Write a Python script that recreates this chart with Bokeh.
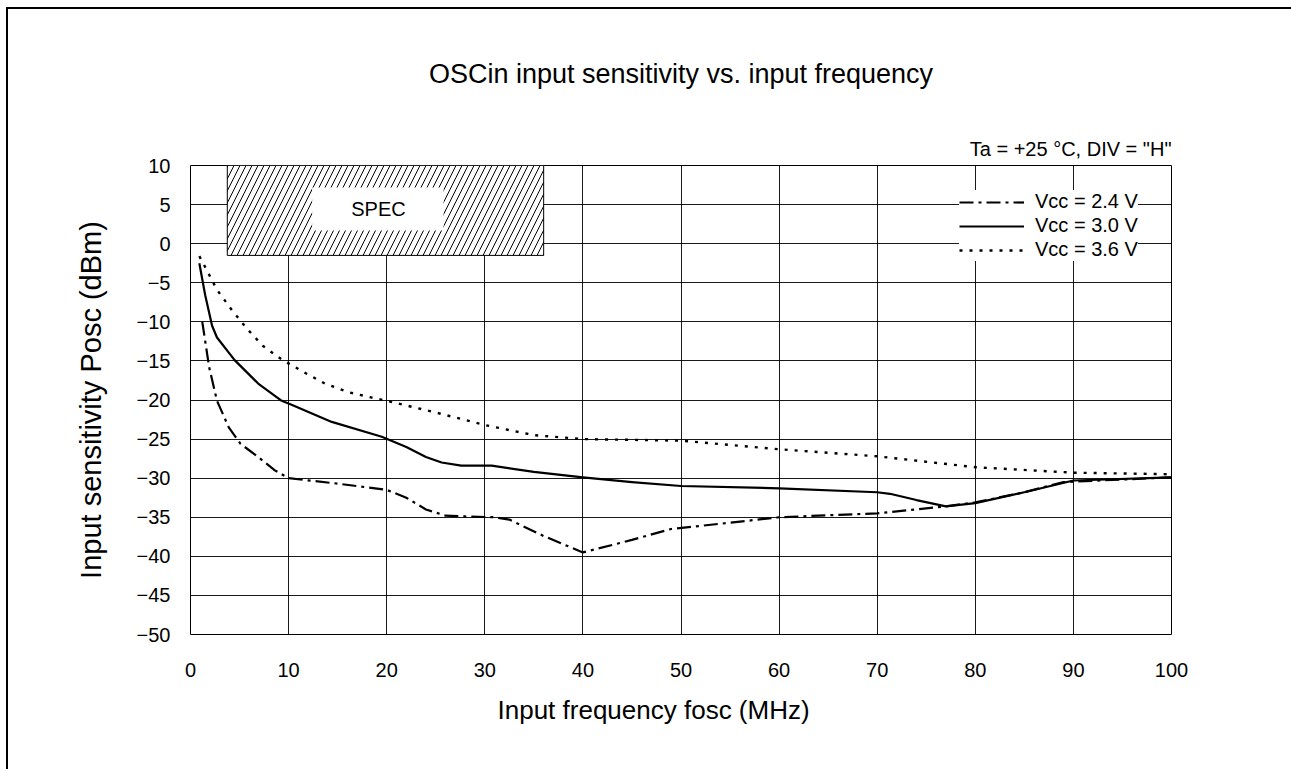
from bokeh.plotting import figure
from bokeh.models import Legend, LegendItem, FixedTicker, Label, Title
from bokeh.embed import file_html
from bokeh.resources import INLINE

FONT = "Liberation Sans"

# ---- data ----
freq_24 = [1.2, 1.9, 2.7, 3.9, 5.1, 6.9, 8.6, 10, 15, 20, 22, 24, 26, 28, 31, 32.5, 36, 40, 45, 49, 55, 60, 70, 77, 80, 85, 89, 100]
psens_24 = [-10.0, -15.8, -20.1, -23.5, -25.6, -27.3, -29.0, -30.0, -30.7, -31.5, -32.5, -34.0, -34.8, -34.9, -35.0, -35.3, -37.4, -39.5, -37.9, -36.5, -35.7, -35.0, -34.5, -33.6, -33.1, -31.8, -30.5, -29.9]

freq_30 = [0.9, 1.5, 2.2, 2.7, 4.5, 6.9, 9.3, 10.3, 14.4, 19.5, 22, 24, 25.6, 27.6, 30.7, 35, 40, 45, 50, 60, 70, 71.3, 74, 77, 80, 85, 90, 100]
psens_30 = [-2.5, -6.6, -10.5, -12.0, -14.9, -17.9, -20.1, -20.6, -22.8, -24.7, -26.0, -27.3, -28.0, -28.4, -28.4, -29.2, -29.9, -30.5, -31.0, -31.3, -31.8, -32.0, -32.8, -33.6, -33.2, -31.8, -30.3, -29.9]

freq_36 = [0.9, 1.5, 2.7, 4.1, 5.7, 7.4, 9.4, 11.5, 13.7, 16.1, 18.5, 20, 25, 30, 35, 40, 50, 60, 70, 80, 90, 100]
psens_36 = [-1.6, -3.0, -5.9, -8.3, -10.8, -13.1, -14.9, -16.4, -17.9, -19.0, -19.7, -20.1, -21.6, -23.2, -24.5, -25.0, -25.2, -26.3, -27.2, -28.6, -29.3, -29.5]

series_labels = ["Vcc = 2.4 V", "Vcc = 3.0 V", "Vcc = 3.6 V"]

x_ticks = [0, 10, 20, 30, 40, 50, 60, 70, 80, 90, 100]
y_ticks = [10, 5, 0, -5, -10, -15, -20, -25, -30, -35, -40, -45, -50]
y_tick_labels = ["10", "5", "0", "\u22125", "\u221210", "\u221215", "\u221220", "\u221225",
                 "\u221230", "\u221235", "\u221240", "\u221245", "\u221250"]

spec_freq = [3.75, 36.0]
spec_level = [-1.5, 10.0]

title_text = "OSCin input sensitivity vs. input frequency"
note_text = 'Ta = +25 \u00b0C, DIV = "H"'
x_label = "Input frequency fosc (MHz)"
y_label = "Input sensitivity Posc (dBm)"

p = figure(frame_width=981, frame_height=469, x_range=(0, 100), y_range=(-50, 10),
           output_backend="svg", toolbar_location=None,
           min_border_left=182, min_border_top=156, min_border_right=120, min_border_bottom=135)
p.styles = {"margin-left": "6px", "margin-top": "7px",
            "border-left": "2px solid black", "border-top": "2px solid black"}
p.background_fill_color = "white"
p.border_fill_color = "white"
p.outline_line_color = "black"
p.outline_line_width = 1

# main title (outermost) and condition note
p.title.text = title_text
p.title.align = "center"
p.title.text_font = FONT
p.title.text_font_size = "27px"
p.title.text_font_style = "normal"
p.title.text_color = "black"
p.title.standoff = 83

note = Title(text=note_text, align="right", text_font=FONT, text_font_size="20px",
             text_font_style="normal", text_color="black", standoff=11)
p.add_layout(note, "above")

for ax in (p.xaxis[0], p.yaxis[0]):
    ax.axis_line_color = None
    ax.major_tick_line_color = None
    ax.minor_tick_line_color = None
    ax.major_tick_out = 0
    ax.major_tick_in = 0
    ax.major_label_text_font = FONT
    ax.major_label_text_font_size = "20px"
    ax.major_label_text_color = "black"

p.xaxis.ticker = FixedTicker(ticks=x_ticks)
p.yaxis.ticker = FixedTicker(ticks=y_ticks)
p.yaxis.major_label_overrides = {t: l for t, l in zip(y_ticks, y_tick_labels)}
p.xaxis.major_label_standoff = 28
p.yaxis.major_label_standoff = 20

p.yaxis.axis_label = y_label
p.yaxis.axis_label_text_font = FONT
p.yaxis.axis_label_text_font_size = "29px"
p.yaxis.axis_label_text_font_style = "normal"
p.yaxis.axis_label_text_color = "black"
p.yaxis.axis_label_standoff = 27

xlab = Title(text=x_label, align="left", offset=307, text_font=FONT, text_font_size="26px",
             text_font_style="normal", text_color="black", standoff=26)
p.add_layout(xlab, "below")

p.xgrid.ticker = FixedTicker(ticks=x_ticks)
p.ygrid.ticker = FixedTicker(ticks=y_ticks)
for g in (p.xgrid[0], p.ygrid[0]):
    g.grid_line_color = "black"
    g.grid_line_width = 1
    g.grid_line_alpha = 0.9

# SPEC hatched box
p.quad(left=spec_freq[0], right=spec_freq[1], bottom=spec_level[0], top=spec_level[1],
       fill_color="white", line_color="black", line_width=1,
       hatch_pattern="/", hatch_color="black", hatch_scale=12, hatch_weight=1)
p.quad(left=12.4, right=25.8, bottom=1.7, top=7.2, fill_color="white", line_color=None)
p.add_layout(Label(x=(spec_freq[0] + spec_freq[1]) / 2, y=4.4, x_offset=-7, text="SPEC",
                   text_align="center", text_baseline="middle",
                   text_font=FONT, text_font_size="20px", text_color="black"))

# curves
r24 = p.line(freq_24, psens_24, line_color="black", line_width=2.2, line_dash="14 5 3 5",
             line_join="round")
r30 = p.line(freq_30, psens_30, line_color="black", line_width=2.2, line_join="round")
r36 = p.line(freq_36, psens_36, line_color="black", line_width=2.4, line_dash="3 7",
             line_join="round")

legend = Legend(items=[LegendItem(label=series_labels[0], renderers=[r24]),
                       LegendItem(label=series_labels[1], renderers=[r30]),
                       LegendItem(label=series_labels[2], renderers=[r36])],
                location=(769, 373))
legend.label_text_font = FONT
legend.label_text_font_size = "20px"
legend.label_text_color = "black"
legend.glyph_width = 65
legend.glyph_height = 20
legend.label_height = 20
legend.label_standoff = 11
legend.spacing = 1
legend.padding = 8
legend.border_line_color = None
legend.background_fill_color = "white"
legend.background_fill_alpha = 1.0
p.add_layout(legend)

open("out.html", "w").write(file_html(p, INLINE))
